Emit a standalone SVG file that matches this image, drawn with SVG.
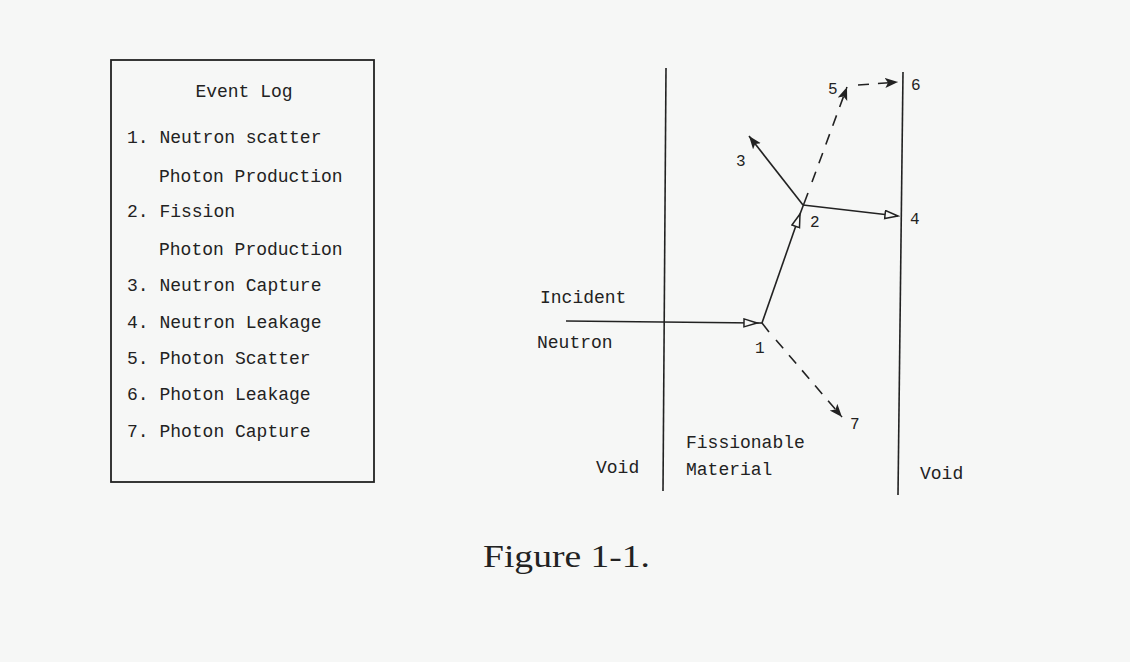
<svg xmlns="http://www.w3.org/2000/svg" width="1130" height="662" viewBox="0 0 1130 662">
<style>
.t{font-family:"Liberation Mono","Courier New",monospace;font-size:18px;fill:#222}
.n{font-family:"Liberation Mono","Courier New",monospace;font-size:16px;fill:#222}
.cap{font-family:"Liberation Serif","Times New Roman",serif;font-size:31px;fill:#222}
.ln{stroke:#222;stroke-width:1.6;fill:none}
.d{stroke:#222;stroke-width:1.6;fill:none;stroke-dasharray:11 9}
</style>
<defs>
<marker id="open" markerUnits="userSpaceOnUse" markerWidth="16" markerHeight="12" refX="14" refY="5" orient="auto">
<path d="M1,1 L14,5 L1,9 z" fill="#f6f7f6" stroke="#222" stroke-width="1.5"/>
</marker>
<marker id="fill" markerUnits="userSpaceOnUse" markerWidth="16" markerHeight="12" refX="13" refY="5" orient="auto">
<path d="M0,0 L13,5 L0,10 L3,5 z" fill="#222"/>
</marker>
</defs>
<rect width="1130" height="662" fill="#f6f7f6"/>
<g id="event-log">
<rect x="111" y="60" width="263" height="422" fill="none" stroke="#222" stroke-width="1.8"/>
<text class="t" x="244" y="97" text-anchor="middle">Event Log</text>
<text class="t" x="127" y="143">1. Neutron scatter</text>
<text class="t" x="159" y="182">Photon Production</text>
<text class="t" x="127" y="217">2. Fission</text>
<text class="t" x="159" y="255">Photon Production</text>
<text class="t" x="127" y="291">3. Neutron Capture</text>
<text class="t" x="127" y="328">4. Neutron Leakage</text>
<text class="t" x="127" y="364">5. Photon Scatter</text>
<text class="t" x="127" y="400">6. Photon Leakage</text>
<text class="t" x="127" y="437">7. Photon Capture</text>
</g>
<g id="boundaries">
<line class="ln" x1="666" y1="68" x2="663" y2="491"/>
<line class="ln" x1="903" y1="72" x2="898" y2="495"/>
</g>
<g id="region-labels">
<text class="t" x="540" y="303">Incident</text>
<text class="t" x="537" y="348">Neutron</text>
<text class="t" x="596" y="473">Void</text>
<text class="t" x="686" y="448">Fissionable</text>
<text class="t" x="686" y="475">Material</text>
<text class="t" x="920" y="479">Void</text>
</g>
<g id="connectors">
<line class="ln" x1="566" y1="321" x2="757" y2="323" marker-end="url(#open)"/>
<line class="ln" x1="757" y1="323" x2="762" y2="323"/>
<line class="ln" x1="762" y1="323" x2="800" y2="214" marker-end="url(#open)"/>
<line class="ln" x1="800" y1="214" x2="808" y2="193"/>
<line class="ln" x1="803" y1="205" x2="749" y2="136" marker-end="url(#fill)"/>
<line class="ln" x1="803" y1="205" x2="898" y2="216" marker-end="url(#open)"/>
<line class="d" x1="812" y1="182" x2="847" y2="87" marker-end="url(#fill)"/>
<line class="d" x1="858" y1="85" x2="898" y2="82" stroke-dasharray="8 10 30" marker-end="url(#fill)"/>
<line class="ln" x1="762" y1="323" x2="769" y2="332"/>
<line class="d" x1="776" y1="340" x2="842" y2="417" stroke-dasharray="10 10" marker-end="url(#fill)"/>
</g>
<g id="event-numbers">
<text class="n" x="755" y="353">1</text>
<text class="n" x="810" y="227">2</text>
<text class="n" x="736" y="166">3</text>
<text class="n" x="910" y="224">4</text>
<text class="n" x="828" y="94">5</text>
<text class="n" x="911" y="90">6</text>
<text class="n" x="850" y="429">7</text>
</g>
<text class="cap" x="483" y="567" textLength="167" lengthAdjust="spacingAndGlyphs">Figure 1-1.</text>
</svg>
